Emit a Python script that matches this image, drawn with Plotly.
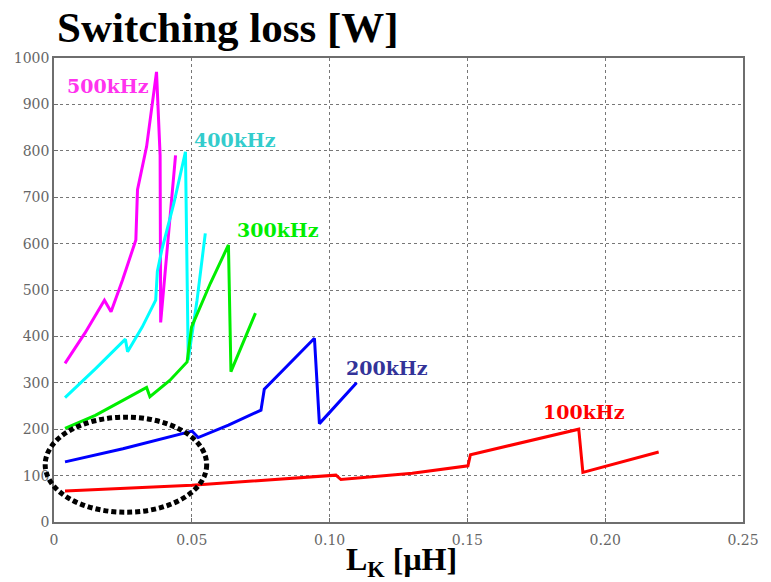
import plotly.graph_objects as go

# Switching loss vs. commutation inductance, one series per switching frequency
lk_500 = [0.004, 0.0112, 0.0183, 0.0207, 0.0249, 0.0297, 0.0303, 0.0336, 0.0372, 0.0385, 0.0387, 0.0441]
loss_500 = [342, 407, 478, 453, 522, 608, 716, 809, 970, 790, 430, 790]

lk_400 = [0.004, 0.015, 0.0259, 0.0267, 0.032, 0.0369, 0.0375, 0.0391, 0.0435, 0.0477, 0.0487, 0.0519, 0.0549]
loss_400 = [268, 330, 394, 367, 420, 478, 540, 586, 687, 798, 349, 478, 622]

lk_300 = [0.004, 0.015, 0.025, 0.0336, 0.0348, 0.042, 0.0483, 0.0499, 0.0567, 0.0633, 0.0642, 0.0731]
loss_300 = [202, 230, 262, 290, 270, 305, 345, 420, 514, 597, 324, 450]

lk_200 = [0.004, 0.025, 0.0501, 0.0523, 0.0633, 0.0751, 0.0763, 0.0945, 0.0963, 0.1098]
loss_200 = [129.5, 158, 196, 182, 209, 241, 286, 396, 212, 300]

lk_100 = [0.004, 0.05, 0.1023, 0.1041, 0.13, 0.1502, 0.1511, 0.1904, 0.1919, 0.2194]
loss_100 = [67, 79, 101, 91.5, 105, 121, 145, 200, 107, 151]

x_ticks = [0, 0.05, 0.10, 0.15, 0.20, 0.25]
x_tick_text = ["0", "0.05", "0.10", "0.15", "0.20", "0.25"]
y_ticks = [0, 100, 200, 300, 400, 500, 600, 700, 800, 900, 1000]

X_RANGE = [0, 0.25]
Y_RANGE = [0, 1000]

series = [
    ("500kHz", lk_500, loss_500, "#ff00ff", "#ff33ee", 0.004, 939),
    ("400kHz", lk_400, loss_400, "#00ffff", "#33cccc", 0.0500, 823),
    ("300kHz", lk_300, loss_300, "#00ee00", "#00ee00", 0.0658, 630),
    ("200kHz", lk_200, loss_200, "#0000ff", "#333399", 0.1053, 331),
    ("100kHz", lk_100, loss_100, "#ff0000", "#ff0000", 0.1766, 237),
]

fig = go.Figure()
annotations = []
for name, xs, ys, line_col, text_col, lx, ly in series:
    fig.add_trace(go.Scatter(x=xs, y=ys, mode="lines", name=name,
                             line=dict(color=line_col, width=3),
                             showlegend=False))
    annotations.append(dict(x=lx, y=ly, xref="x", yref="y", text=name,
                            showarrow=False, xanchor="left", yanchor="middle",
                            font=dict(family="DejaVu Serif", size=19,
                                      color=text_col, weight="bold")))

# x-axis title
annotations.append(dict(x=0.505, y=-0.085, xref="paper", yref="paper",
                        text="L<sub>K</sub> [μH]", showarrow=False,
                        xanchor="center", yanchor="middle",
                        font=dict(family="Liberation Serif", size=32,
                                  color="black", weight="bold")))

# dotted ellipse around the low-inductance region (given in data units)
ell_x = [-0.0032, 0.0554]
ell_y = [21, 226]
to_px = lambda v: (v - X_RANGE[0]) / (X_RANGE[1] - X_RANGE[0])
to_py = lambda v: (v - Y_RANGE[0]) / (Y_RANGE[1] - Y_RANGE[0])
shapes = [dict(type="circle", xref="paper", yref="paper",
               x0=to_px(ell_x[0]), x1=to_px(ell_x[1]),
               y0=to_py(ell_y[0]), y1=to_py(ell_y[1]),
               line=dict(color="black", width=5, dash="5px,3px"),
               layer="above")]

axis_common = dict(showline=True, mirror=True, linecolor="#6e6e6e", linewidth=1.5,
                   showgrid=True, gridcolor="#777777", gridwidth=1, griddash="dot",
                   zeroline=False, ticks="inside", ticklen=4, tickcolor="#6e6e6e",
                   tickfont=dict(family="DejaVu Serif", size=14, color="#666666"))

fig.update_layout(
    width=771, height=582,
    margin=dict(l=54, r=22, t=58, b=60),
    paper_bgcolor="white", plot_bgcolor="white",
    title=dict(text="<b>Switching loss [W]</b>", x=57 / 771, xanchor="left",
               y=1 - 27 / 582, yanchor="middle",
               font=dict(family="Liberation Serif", size=43, color="black")),
    xaxis=dict(range=X_RANGE, tickvals=x_ticks, ticktext=x_tick_text,
               ticklabelstandoff=4, **axis_common),
    yaxis=dict(range=Y_RANGE, tickvals=y_ticks, ticklabelstandoff=0, **axis_common),
    annotations=annotations,
    shapes=shapes,
)

fig.write_html("out.html")
